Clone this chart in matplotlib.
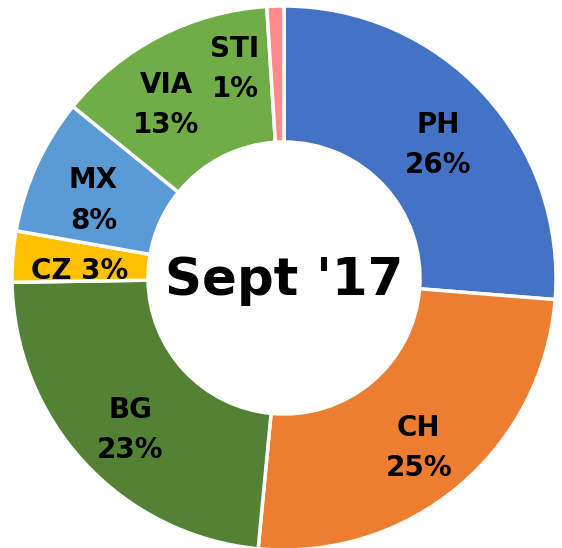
import numpy as np
import matplotlib.pyplot as plt

# share of volume by site, Sept '17
sites = ['PH', 'CH', 'BG', 'CZ', 'MX', 'VIA', 'STI']
shares = [26, 25, 23, 3, 8, 13, 1]
colors = ['#4472C4', '#ED7D31', '#548235', '#FFC000', '#5B9BD5', '#70AD47', '#FF8B8B']
center_title = "Sept '17"

fig = plt.figure(figsize=(5.62, 5.48), dpi=100)
r_px = 272
cx, cy = 284, 548 - 278
ax = fig.add_axes([(cx - r_px) / 562, (cy - r_px) / 548, 2 * r_px / 562, 2 * r_px / 548])

wedges, _ = ax.pie(shares, colors=colors, startangle=90, counterclock=False,
                   radius=1.0, wedgeprops=dict(width=0.5, edgecolor='white', linewidth=2.5))
ax.set_xlim(-1, 1)
ax.set_ylim(-1, 1)
ax.set_aspect('auto')
ax.axis('off')

# small nudges for labels that Excel moved off the slice centre
nudge = {'VIA': (-0.08, -0.015), 'CZ': (0.015, 0.0)}

for w, name, s in zip(wedges, sites, shares):
    mid = np.deg2rad((w.theta1 + w.theta2) / 2)
    r = 0.77
    x, y = r * np.cos(mid), r * np.sin(mid) - 0.035
    dx, dy = nudge.get(name, (0, 0))
    x, y = x + dx, y + dy
    label = f'{name}\n{s}%'
    if name == 'CZ':
        label = f'{name} {s}%'
    if name == 'STI':
        x, y = -0.18, 0.77
    ax.text(x, y, label, ha='center', va='center', fontsize=20, fontweight='bold',
            family='DejaVu Sans', linespacing=1.55)

ax.text(0, -0.01, center_title, ha='center', va='center', fontsize=37,
        fontweight='bold', family='DejaVu Sans')

fig.savefig('out.png', dpi=100)
